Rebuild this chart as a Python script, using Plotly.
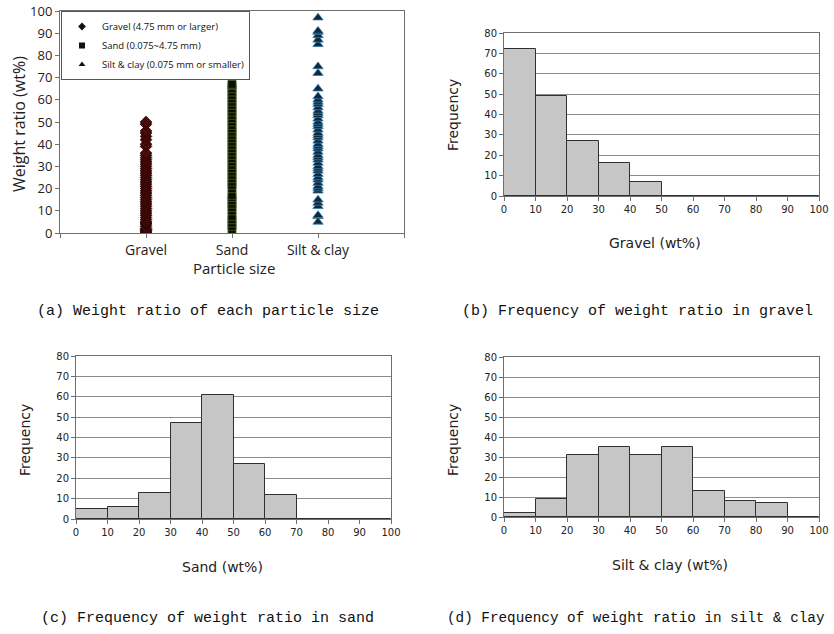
import plotly.graph_objects as go

# ---------------- data ----------------
categories = ["Gravel", "Sand", "Silt & clay"]
legend_names = ["Gravel (4.75 mm or larger)", "Sand (0.075~4.75 mm)", "Silt & clay (0.075 mm or smaller)"]

gravel_wt = [0, 0.5, 1, 1.5, 2, 3, 4, 4.5, 5, 6, 7, 8, 9, 10, 11, 12, 13, 14, 15, 16, 17, 18,
             19, 20, 21, 22, 23, 24, 25, 26, 27, 28, 29, 30, 31, 32, 33, 34, 35, 36, 39, 40,
             42, 43.5, 45, 46, 49, 50]
sand_wt = [1.5, 3, 4.5, 6, 7.5, 10, 11.5, 13, 14.5, 16, 17, 20, 21.5, 23, 24.5, 26, 27.5, 29,
           30.5, 32, 33.5, 35, 36.5, 38, 39.5, 41, 42.5, 44, 45.5, 47, 48.5, 50, 51.5, 53, 54.5,
           56, 57.5, 59, 60.5, 62, 63.5, 65, 66.5, 67]
silt_wt = [5, 7.5, 8, 12, 13.5, 15, 19, 20, 21, 22.5, 24, 25, 26.5, 28, 29, 30, 31.5, 33, 34,
           35, 36.5, 38, 39, 40, 41.5, 43, 44, 45, 46.5, 48, 49, 50, 51.5, 53, 54, 55, 56.5,
           58, 59, 60, 61.5, 65, 72, 75, 85, 87, 89, 90.5, 91, 97]

bin_left = [0, 10, 20, 30, 40, 50, 60, 70, 80, 90]
gravel_freq = [72, 49, 27, 16, 7, 0, 0, 0, 0, 0]
sand_freq = [5, 6, 13, 47, 61, 27, 12, 0, 0, 0]
silt_freq = [2, 9, 31, 35, 31, 35, 13, 8, 7, 0]

# ---------------- layout helpers ----------------
W, H = 834, 634
def px(x):
    return x / W
def py(y):
    return 1 - y / H

fig = go.Figure()

FONT_A = "'Open Sans', 'Noto Sans', sans-serif"
FONT_H = "'DejaVu Sans', Verdana, sans-serif"
CAP_FONT = "'Liberation Mono', 'DejaVu Sans Mono', monospace"

# ---------------- panel (a) scatter ----------------
series = [gravel_wt, sand_wt, silt_wt]
symbols = ["diamond", "square", "triangle-up"]
fills = ["#4e0a0a", "#0a0f03", "#0b2a40"]
edges = ["#1e0202", "#4a5f1c", "#3a7aa6"]
sizes = [9, 8, 9]
for i, vals in enumerate(series):
    fig.add_trace(go.Scatter(
        x=[i + 1] * len(vals), y=vals, mode="markers", name=legend_names[i],
        marker=dict(symbol=symbols[i], size=sizes[i], color=fills[i],
                    line=dict(color=edges[i], width=0.8)),
        xaxis="x", yaxis="y", showlegend=False))
# legend entries with small symbols, as in the reference key
for i in range(3):
    fig.add_trace(go.Scatter(
        x=[None], y=[None], mode="markers", name=legend_names[i],
        marker=dict(symbol=symbols[i], size=6, color="#111"),
        xaxis="x", yaxis="y", showlegend=True))

# ---------------- histograms ----------------
hist = [(gravel_freq, "x2", "y2"), (sand_freq, "x3", "y3"), (silt_freq, "x4", "y4")]
for freq, xa, ya in hist:
    fig.add_trace(go.Bar(
        x=bin_left, y=freq, width=10, offset=0,
        marker=dict(color="#c6c6c6", line=dict(color="#303030", width=1)),
        xaxis=xa, yaxis=ya, showlegend=False))

axis_line = "#6e6e6e"
common_x = dict(showline=True, linecolor=axis_line, linewidth=1, mirror=True,
                ticks="outside", ticklen=4, tickcolor=axis_line, showgrid=False,
                zeroline=False, automargin=False, ticklabeloverflow="allow")
common_y = dict(showline=True, linecolor=axis_line, linewidth=1, mirror=True,
                ticks="outside", ticklen=4, tickcolor=axis_line, zeroline=False,
                automargin=False, ticklabeloverflow="allow")

A_TOP = 11
layout = dict(
    width=W, height=H, margin=dict(l=0, r=0, t=0, b=0, pad=0, autoexpand=False),
    paper_bgcolor="white", plot_bgcolor="white", bargap=0,
    showlegend=True,
    legend=dict(x=px(61), y=py(A_TOP), xanchor="left", yanchor="top",
                bordercolor="#555", borderwidth=1, bgcolor="white",
                font=dict(family=FONT_A, size=9.5, color="#111"),
                itemsizing="trace", itemwidth=30, tracegroupgap=0),
    xaxis=dict(domain=[px(60), px(404)], range=[0, 4], tickvals=[0, 1, 2, 3, 4],
               ticktext=["", categories[0], categories[1], categories[2], ""],
               tickfont=dict(family=FONT_A, size=14, color="#222"), anchor="y", **common_x),
    yaxis=dict(domain=[py(233), py(A_TOP)], range=[0, 100], dtick=10, showgrid=False,
               tickfont=dict(family=FONT_A, size=13, color="#222"), anchor="x", **common_y),
)

hist_dom = [
    ("xaxis2", "yaxis2", "x2", "y2", [504, 819], [196, 33]),
    ("xaxis3", "yaxis3", "x3", "y3", [76, 391], [519, 356]),
    ("xaxis4", "yaxis4", "x4", "y4", [504, 819], [517, 357]),
]
for xk, yk, xn, yn, xd, yd in hist_dom:
    layout[xk] = dict(domain=[px(xd[0]), px(xd[1])], range=[0, 100], dtick=10,
                      tick0=0, anchor=yn,
                      tickfont=dict(family=FONT_H, size=10, color="#222"), **common_x)
    layout[yk] = dict(domain=[py(yd[0]), py(yd[1])], range=[0, 80], dtick=10,
                      anchor=xn, showgrid=True, gridcolor="#8c8c8c", gridwidth=1,
                      tickfont=dict(family=FONT_H, size=10, color="#222"), **common_y)

fig.update_layout(**layout)

# ---------------- text annotations ----------------
def ann(text, x, y, size, family, angle=0, color="#222"):
    fig.add_annotation(text=text, x=px(x), y=py(y), xref="paper", yref="paper",
                       showarrow=False, textangle=angle, xanchor="center", yanchor="middle",
                       font=dict(family=family, size=size, color=color))

ann("Weight ratio (wt%)", 19, 124, 16, FONT_A, angle=-90)
ann("Particle size", 234, 268, 15, FONT_A)

ann("Frequency", 453, 115, 14, FONT_H, angle=-90)
ann("Gravel (wt%)", 655, 243, 14, FONT_H)
ann("Frequency", 25, 440, 14, FONT_H, angle=-90)
ann("Sand (wt%)", 222, 567, 14, FONT_H)
ann("Frequency", 453, 440, 14, FONT_H, angle=-90)
ann("Silt &amp; clay (wt%)", 670, 565, 14, FONT_H)

ann("(a) Weight ratio of each particle size", 208, 311, 15, CAP_FONT, color="#111")
ann("(b) Frequency of weight ratio in gravel", 637, 311, 15, CAP_FONT, color="#111")
ann("(c) Frequency of weight ratio in sand", 207, 618, 15, CAP_FONT, color="#111")
ann("(d) Frequency of weight ratio in silt &amp; clay", 636, 618, 14.3, CAP_FONT, color="#111")

# place the figure flush with the window corner (the page's default body margin is removed)
fig.write_html("out.html", config={"displayModeBar": False},
               post_script="document.body.style.margin='0';")
